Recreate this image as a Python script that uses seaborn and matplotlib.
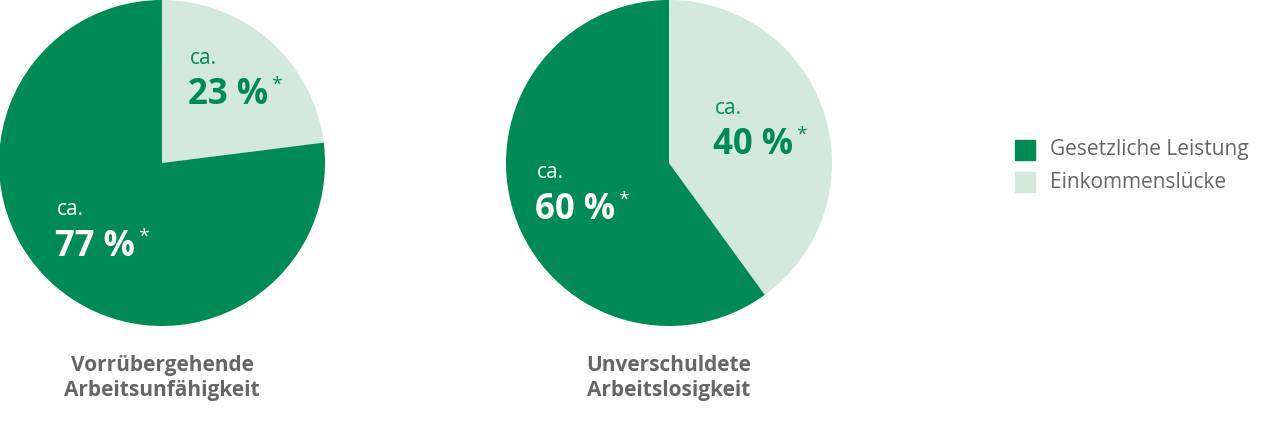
import matplotlib
matplotlib.use("Agg")
import matplotlib.pyplot as plt
import seaborn as sns

sns.set_theme(style="white")
plt.rcParams['font.family'] = ['Open Sans', 'DejaVu Sans']

categories = ["Gesetzliche Leistung", "Einkommenslücke"]
titles = ["Vorrübergehende\nArbeitsunfähigkeit", "Unverschuldete\nArbeitslosigkeit"]
gesetzlich = [77, 60]
luecke = [23, 40]
colors = ["#008a55", "#d3e9dc"]

W, H = 1280, 422
fig = plt.figure(figsize=(12.8, 4.22), dpi=100)

def px(x, y):
    return x / W, 1 - y / H

centers = [162, 669]
R = 163
for i, cx in enumerate(centers):
    ax = fig.add_axes([(cx - R) / W, (H - 2 * R) / H, 2 * R / W, 2 * R / H])
    ax.pie([luecke[i], gesetzlich[i]], colors=[colors[1], colors[0]],
           startangle=90, counterclock=False, radius=1,
           wedgeprops=dict(linewidth=0))
    ax.set_xlim(-1, 1); ax.set_ylim(-1, 1); ax.set_aspect('equal'); ax.axis('off')
    fig.text(*px(cx, 378), titles[i], ha='center', va='center', fontsize=15,
             fontweight='bold', color='#666666', linespacing=1.25)

def label(x, yca, ybig, val, color):
    fig.text(*px(x + 2, yca), "ca.", ha='left', va='center', fontsize=15, color=color)
    t = fig.text(*px(x, ybig), f"{val} %", ha='left', va='center', fontsize=25,
                 fontweight='bold', color=color)
    fig.canvas.draw()
    bb = t.get_window_extent()
    fig.text(*px(bb.x1 + 3, ybig - 10), "*", ha='left', va='center', fontsize=14, color=color)

label(188, 58, 95, luecke[0], colors[0])
label(55, 210, 247, gesetzlich[0], "white")
label(713, 108, 145, luecke[1], colors[0])
label(535, 172, 210, gesetzlich[1], "white")

for j, (cat, c) in enumerate(zip(categories, colors)):
    y = 150 + j * 32
    fig.patches.append(plt.Rectangle(px(1015, y + 10), 20 / W, 20 / H,
                                     transform=fig.transFigure, color=c, figure=fig))
    fig.text(*px(1050, y), cat, ha='left', va='center', fontsize=15, color='#666666')

fig.savefig("out.png", dpi=100)
